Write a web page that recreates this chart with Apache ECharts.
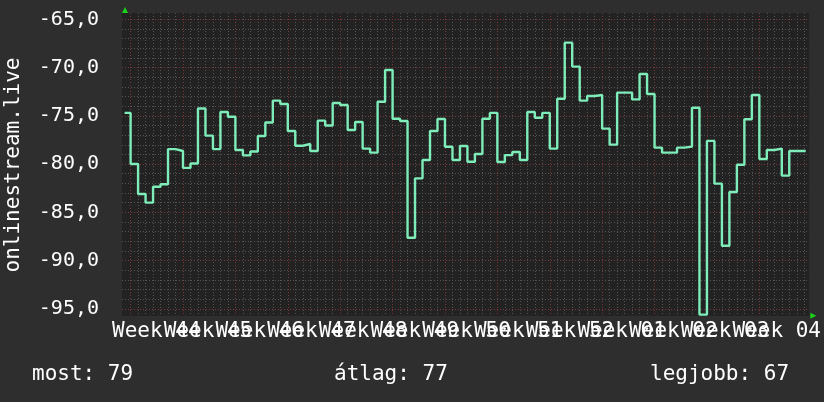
<!DOCTYPE html>
<html><head><meta charset="utf-8">
<script src="https://cdn.jsdelivr.net/npm/echarts@6/dist/echarts.min.js"></script>
<style>html,body{margin:0;padding:0;background:#2e2e2e;}#c{width:824px;height:402px;}</style>
</head><body><div id="c"></div>
<script>
// ---------- data ----------
const axisTitle = 'onlinestream.live';
// one value per day; first entry is the partial day before the first week line
const signal = [
  -74.7,
  -80.0, -83.1, -84.0, -82.35, -82.1, -78.45, -78.65,
  -80.4, -79.95, -74.25, -77.05, -78.45, -74.6, -75.1,
  -78.55, -79.1, -78.7, -77.1, -75.7, -73.43, -73.78,
  -76.57, -78.1, -77.92, -78.65, -75.5, -76.0, -73.67,
  -73.88, -76.47, -75.64, -78.4, -78.82, -73.54, -70.25,
  -75.3, -75.54, -87.63, -81.48, -79.58, -76.57, -75.33,
  -78.2, -79.58, -78.13, -79.76, -78.96, -75.3, -74.7,
  -79.79, -79.07, -78.75, -79.58, -74.6, -75.2, -74.7,
  -78.4, -73.23, -67.42, -69.9, -73.43, -72.95, -72.85,
  -76.33, -77.99, -72.6, -72.6, -73.3, -70.67, -72.74,
  -78.3, -78.82, -78.82, -78.3, -78.2, -74.16, -95.6,
  -77.6, -82.03, -88.46, -82.9, -80.07, -75.36, -72.85,
  -79.48, -78.54, -78.4, -81.2, -78.65, -78.65
];
const dataStart = -0.8;   // days, relative to Monday of week 44
const dataEnd = 90.2;
const weekLabels = ['Week 44','Week 45','Week 46','Week 47','Week 48','Week 49','Week 50',
                    'Week 51','Week 52','Week 01','Week 02','Week 03','Week 04'];
const summaryLabels = ['most: 79', 'átlag: 77', 'legjobb: 67'];

// ---------- layout ----------
const FONT = 'DejaVu Sans Mono';
const PX_DAY = 7.485, X_DAY0 = 130.6;
const PX_UNIT = 9.65, Y_M65 = 19.3;
const cv = {left: 122, top: 13, right: 809.3, bottom: 315.7};
const valAtY = y => -65 - (y - Y_M65) / PX_UNIT;
const dayAtX = x => (x - X_DAY0) / PX_DAY;
const pxDay = d => X_DAY0 + PX_DAY * d;
const pyVal = v => Y_M65 + (-65 - v) * PX_UNIT;

const RED = '#7a3838', GREY = '#545454', NONE = 'rgba(0,0,0,0)';
const xMinV = -2, xMaxV = 91, yMinH = -96, yMaxH = -64;

const points = signal.map((v, i) => [i === 0 ? dataStart : i - 1, v]);
points.push([dataEnd, signal[signal.length - 1]]);

const xColors = [];
for (let d = xMinV; d <= xMaxV; d++) xColors.push((d < 0 || d > 90) ? NONE : (d % 7 === 0 ? RED : GREY));
const yColors = [];
for (let v = yMinH; v <= yMaxH; v++) yColors.push((v === yMinH || v === yMaxH) ? NONE : (v % 5 === 0 ? RED : GREY));

const cvW = cv.right - cv.left, cvH = cv.bottom - cv.top;
const hidden = {show: false};
const txt = (x, y, text) => ({type: 'text', x, y,
  style: {text, fill: '#ffffff', font: '21px "DejaVu Sans Mono"', textVerticalAlign: 'top'}});

const chart = echarts.init(document.getElementById('c'), null, {renderer: 'canvas'});
chart.setOption({
  animation: false,
  backgroundColor: '#2e2e2e',
  grid: [
    {left: cv.left, top: cv.top, width: cvW, height: cvH, show: true, backgroundColor: '#222222', borderWidth: 0},
    {left: cv.left, top: pyVal(yMaxH), width: cvW, height: pyVal(yMinH) - pyVal(yMaxH)},
    {left: pxDay(xMinV), top: cv.top, width: pxDay(xMaxV) - pxDay(xMinV), height: cvH},
    {left: pxDay(xMinV) + PX_DAY / 2, top: cv.top, width: pxDay(xMaxV) - pxDay(xMinV), height: cvH}
  ],
  xAxis: [
    {gridIndex: 0, type: 'value', min: dayAtX(cv.left), max: dayAtX(cv.right), show: false},
    {gridIndex: 1, type: 'value', min: 0, max: 1, show: false},
    {gridIndex: 2, type: 'value', min: xMinV, max: xMaxV, interval: 1,
      axisLine: hidden, axisTick: hidden, axisLabel: hidden,
      splitLine: {show: true, lineStyle: {color: xColors, width: 1, type: [1, 2]}}},
    {gridIndex: 3, type: 'value', min: xMinV, max: xMaxV, interval: 1,
      axisLine: hidden, axisTick: hidden, splitLine: hidden,
      axisLabel: {show: true, margin: 5, color: '#ffffff', fontFamily: FONT, fontSize: 21, hideOverlap: false,
        showMinLabel: true, showMaxLabel: true,
        formatter: v => {
          const d = Math.round(v);
          if (d >= 3 && (d - 3) % 7 === 0) { const k = (d - 3) / 7; return weekLabels[k] || ''; }
          return '';
        }}}
  ],
  yAxis: [
    {gridIndex: 0, type: 'value', min: valAtY(cv.bottom), max: valAtY(cv.top), show: false},
    {gridIndex: 1, type: 'value', min: yMinH, max: yMaxH, interval: 1,
      axisLine: hidden, axisTick: hidden,
      axisLabel: {show: true, margin: 23, color: '#ffffff', fontFamily: FONT, fontSize: 20,
        formatter: v => (Math.round(v) % 5 === 0 && v !== yMinH && v !== yMaxH) ? v.toFixed(1).replace('.', ',') : ''},
      splitLine: {show: true, lineStyle: {color: yColors, width: 1, type: [1, 2]}}},
    {gridIndex: 2, type: 'value', min: 0, max: 1, show: false},
    {gridIndex: 3, type: 'value', min: 0, max: 1, show: false}
  ],
  series: [{
    type: 'line', name: axisTitle, xAxisIndex: 0, yAxisIndex: 0,
    step: 'end', showSymbol: false, symbol: 'none', clip: true,
    lineStyle: {color: '#7eedb9', width: 2.4},
    data: points
  }],
  graphic: [
    {type: 'polygon', shape: {points: [[cv.left, cv.top], [cv.left + 6, cv.top], [cv.left + 3, cv.top - 6]]},
      style: {fill: '#19d419'}, z: 10},
    {type: 'polygon', shape: {points: [[cv.right + 1, cv.bottom - 3], [cv.right + 1, cv.bottom + 3], [cv.right + 7, cv.bottom]]},
      style: {fill: '#19d419'}, z: 10},
    {type: 'text', x: 14, y: 165, rotation: Math.PI / 2,
      style: {text: axisTitle, fill: '#ffffff', font: '21px "DejaVu Sans Mono"', textAlign: 'center', textVerticalAlign: 'middle'}},
    txt(32, 364, summaryLabels[0]),
    txt(334, 364, summaryLabels[1]),
    txt(650, 364, summaryLabels[2])
  ]
});
</script></body></html>
